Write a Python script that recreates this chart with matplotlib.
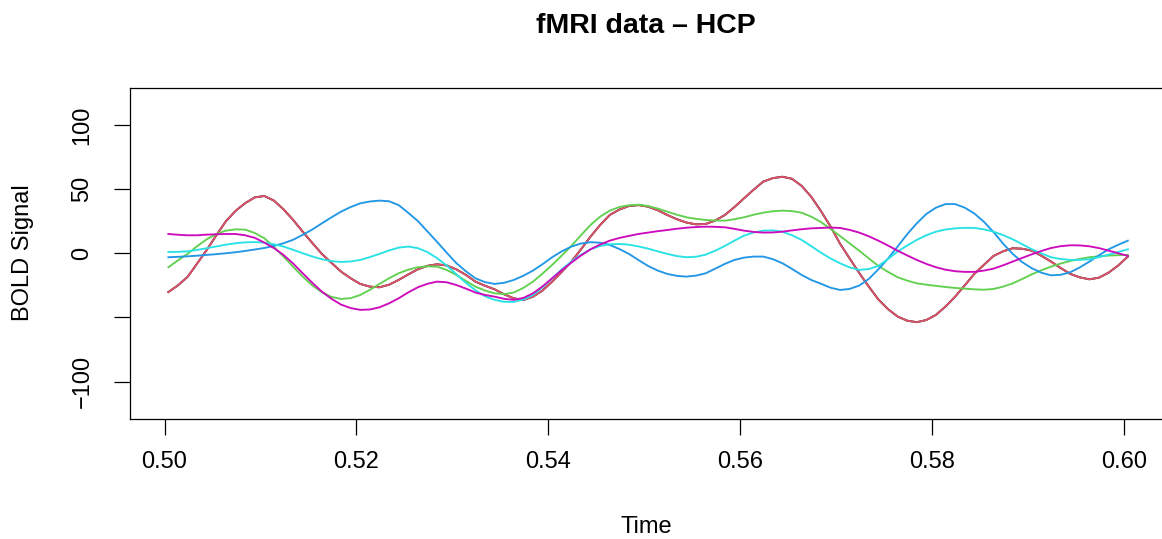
import numpy as np
import matplotlib
matplotlib.use("Agg")
import matplotlib.pyplot as plt

# ---- data ----
time = np.round(np.linspace(0.5004, 0.6004, 101), 5)

series_black = [
    -30.2, -25.0, -18.4, -8.0, 2.6, 14.0, 25.0, 33.0, 39.0, 43.5,
    44.6, 41.0, 34.2, 26.0, 16.8, 8.0, -0.5, -7.5, -14.3, -19.5,
    -23.9, -26.0, -26.5, -24.5, -20.8, -16.5, -12.5, -9.8, -8.6, -9.5,
    -12.5, -16.8, -22.1, -25.3, -28.1, -32.0, -35.1, -36.4, -33.8, -29.0,
    -22.1, -14.5, -6.5, 3.0, 13.0, 22.0, 29.8, 34.0, 36.8, 37.5,
    36.3, 33.5, 29.8, 26.5, 23.9, 22.5, 22.8, 25.5, 29.8, 36.0,
    42.8, 49.5, 55.8, 58.5, 59.6, 58.0, 52.5, 44.0, 33.0, 21.0,
    7.5, -4.0, -15.3, -26.0, -36.0, -43.5, -49.3, -52.5, -53.7, -52.0,
    -48.0, -41.5, -33.8, -25.0, -16.1, -9.0, -2.1, 1.5, 3.9, 3.5,
    2.0, -2.0, -6.5, -11.5, -16.1, -18.8, -20.3, -19.0, -15.1, -9.5,
    -2.6]
series_red = list(series_black)
series_green = [
    -10.9, -5.5, -0.5, 5.5, 10.9, 15.0, 17.6, 18.6, 18.4, 15.8,
    11.7, 5.0, -2.6, -10.5, -18.2, -25.0, -30.4, -34.0, -35.6, -35.0,
    -32.5, -28.5, -23.9, -19.5, -15.6, -12.8, -10.9, -10.2, -10.4, -13.0,
    -16.9, -21.5, -26.0, -29.0, -31.2, -31.8, -30.6, -27.0, -22.1, -15.8,
    -9.1, -1.8, 5.7, 14.0, 22.0, 28.5, 33.2, 36.0, 37.4, 37.8,
    36.8, 34.8, 32.4, 30.0, 28.0, 26.8, 25.9, 25.5, 25.4, 26.5,
    28.0, 30.0, 31.6, 32.7, 33.2, 32.8, 31.6, 28.5, 24.4, 19.0,
    13.5, 7.7, 2.0, -4.0, -9.9, -14.5, -18.7, -21.3, -23.4, -24.5,
    -25.4, -26.3, -27.0, -27.6, -28.1, -28.4, -27.8, -26.0, -23.5, -20.0,
    -16.4, -13.2, -10.4, -8.0, -6.0, -4.4, -3.1, -2.4, -1.8, -1.5,
    -1.3]
series_blue = [
    -3.1, -2.8, -2.4, -1.9, -1.3, -0.7, 0.0, 0.8, 1.8, 2.9,
    4.1, 5.7, 7.8, 10.5, 14.3, 18.5, 23.3, 28.0, 32.4, 36.0,
    38.9, 40.3, 41.0, 40.5, 37.5, 31.5, 25.1, 17.0, 8.9, 0.5,
    -7.6, -14.0, -19.5, -22.5, -23.9, -23.0, -20.8, -17.5, -13.5, -8.5,
    -3.1, 1.5, 5.2, 7.6, 8.6, 8.2, 6.5, 3.3, -0.5, -5.3,
    -9.9, -13.5, -16.1, -17.6, -18.2, -17.4, -15.6, -12.0, -8.3, -5.2,
    -3.4, -2.6, -2.6, -4.6, -7.8, -12.2, -16.9, -20.8, -23.7, -26.8,
    -28.6, -27.8, -25.2, -20.0, -12.5, -4.2, 5.2, 14.8, 23.3, 30.6,
    35.5, 38.3, 38.3, 35.5, 31.0, 24.5, 16.5, 7.5, -0.5, -7.0,
    -11.7, -15.2, -17.2, -16.8, -14.8, -11.0, -6.5, -1.5, 3.1, 6.6,
    9.8]
series_cyan = [
    1.0, 1.1, 1.5, 2.6, 3.9, 5.3, 6.7, 7.8, 8.5, 8.7,
    8.3, 7.0, 5.2, 2.7, 0.0, -2.5, -4.7, -6.1, -6.8, -6.4,
    -5.2, -3.0, -0.5, 2.2, 4.4, 5.2, 4.0, 0.9, -3.8, -9.5,
    -16.3, -23.0, -28.8, -33.5, -36.3, -37.8, -37.9, -36.0, -32.5, -26.5,
    -19.5, -12.5, -6.5, -1.2, 3.1, 5.7, 7.0, 7.2, 6.7, 5.3,
    3.6, 1.5, -0.5, -2.2, -3.1, -2.7, -1.1, 2.0, 5.7, 9.8,
    13.7, 16.2, 17.6, 17.8, 16.8, 14.0, 10.4, 5.5, 0.5, -4.0,
    -7.8, -11.0, -13.0, -12.3, -9.9, -4.5, 1.3, 6.0, 10.4, 14.0,
    16.8, 18.5, 19.4, 19.8, 19.7, 18.6, 16.8, 14.1, 10.9, 7.0,
    3.1, -0.2, -3.1, -4.5, -5.2, -5.1, -4.7, -3.0, -1.1, 1.0,
    3.1]
series_magenta = [
    15.0, 14.4, 14.0, 14.0, 14.5, 14.8, 15.0, 15.0, 14.0, 12.0,
    8.3, 4.0, -1.3, -8.0, -15.6, -23.0, -29.9, -35.5, -40.0, -42.7,
    -44.1, -43.8, -42.1, -39.0, -35.1, -30.5, -26.5, -23.8, -22.1, -22.6,
    -24.7, -27.5, -30.6, -32.5, -33.8, -35.5, -36.3, -34.8, -31.2, -25.8,
    -19.5, -13.2, -7.3, -1.8, 3.1, 6.8, 9.8, 11.9, 13.5, 15.0,
    16.1, 17.2, 18.1, 19.1, 19.9, 20.4, 20.7, 20.6, 20.2, 19.0,
    17.6, 16.6, 16.1, 16.2, 16.8, 17.8, 18.7, 19.4, 19.7, 20.0,
    19.7, 18.2, 16.1, 13.2, 9.8, 6.0, 2.0, -1.7, -5.2, -8.3,
    -10.9, -12.8, -14.0, -14.5, -14.5, -13.5, -12.0, -9.4, -6.5, -3.6,
    -0.8, 1.8, 4.1, 5.5, 6.2, 6.1, 5.4, 4.0, 2.0, 0.0,
    -2.1]

x_ticks = [0.50, 0.52, 0.54, 0.56, 0.58, 0.60]
x_tick_labels = ["0.50", "0.52", "0.54", "0.56", "0.58", "0.60"]
y_ticks = [-100, -50, 0, 50, 100]
y_tick_labels = ["\u2212100", "", "0", "50", "100"]

colors = ["black", "#DF536B", "#61D04F", "#2297E6", "#28E2E5", "#CD0BBC"]
all_series = [series_black, series_red, series_green, series_blue,
              series_cyan, series_magenta]

plt.rcParams["font.family"] = ["Liberation Sans", "DejaVu Sans"]

W, H = 1162, 539
fig = plt.figure(figsize=(W / 100, H / 100), dpi=100)
ax = fig.add_axes([130 / W, 1 - 419 / H, 1 - 130 / W, (419 - 87.5) / H])

for s, c in zip(all_series, colors):
    ax.plot(time, s, color=c, lw=1.35, solid_joinstyle="round")

ax.set_xlim(0.4964, 0.60396)
ax.set_ylim(-129.1, 129.1)

ax.set_xticks(x_ticks)
ax.set_xticklabels(x_tick_labels)
ax.set_yticks(y_ticks)
ax.set_yticklabels(y_tick_labels, rotation=90, va="center")

ax.tick_params(axis="both", direction="out", length=11.3, width=0.9,
               labelsize=17, colors="black")
ax.tick_params(axis="x", pad=12)
ax.tick_params(axis="y", pad=15)
ax.spines["right"].set_visible(False)
for sp in ["left", "top", "bottom"]:
    ax.spines[sp].set_linewidth(0.9)

fig.text(645.7 / W, 1 - 26 / H, "fMRI data \u2013 HCP", ha="center",
         va="center", fontsize=20.5, fontweight="bold")
fig.text(646 / W, 1 - 527 / H, "Time", ha="center", va="center", fontsize=17)
fig.text(23 / W, 1 - 253 / H, "BOLD Signal", ha="center", va="center",
         rotation=90, fontsize=17)

fig.savefig("out.png", dpi=100)
